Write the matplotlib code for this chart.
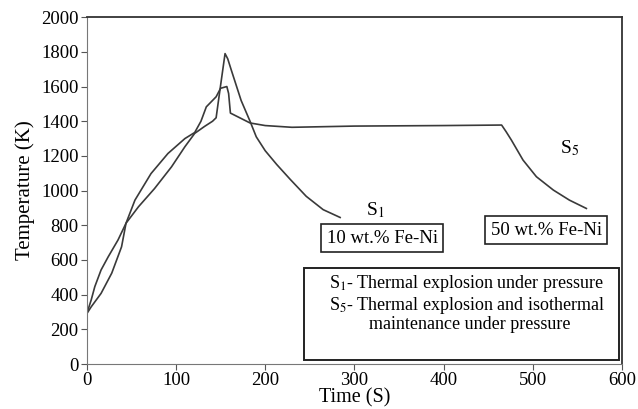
import matplotlib
matplotlib.use("Agg")
import matplotlib.pyplot as plt
from matplotlib.patches import Rectangle

plt.rcParams['font.family'] = 'Liberation Serif'
plt.rcParams['mathtext.fontset'] = 'stix'

# S1 - 10 wt.% Fe-Ni (thermal explosion under pressure)
t_s1 = [0, 5, 9, 16, 24, 35, 44, 58, 76, 95, 110, 121, 132, 141, 145, 149, 155, 158,
        162, 173, 183, 190, 200, 213, 228, 246, 265, 284]
T_s1 = [290, 370, 446, 542, 618, 715, 812, 907, 1012, 1137, 1253, 1330, 1370, 1400, 1420, 1570, 1790, 1760,
        1695, 1520, 1400, 1310, 1230, 1150, 1065, 967, 890, 845]

# S5 - 50 wt.% Fe-Ni (thermal explosion + isothermal maintenance)
t_s5 = [0, 5, 16, 28, 39, 44, 54, 72, 91, 110, 121, 128, 134, 145, 150, 157, 159, 161,
        183, 200, 230, 300, 400, 465, 470, 476, 489, 504, 523, 541, 560]
T_s5 = [290, 330, 407, 524, 676, 812, 945, 1098, 1214, 1300, 1335, 1400, 1483, 1541, 1590, 1600, 1560, 1447,
        1390, 1375, 1365, 1372, 1375, 1378, 1340, 1291, 1176, 1080, 1003, 945, 897]

x_ticks = [0, 100, 200, 300, 400, 500, 600]
y_ticks = [0, 200, 400, 600, 800, 1000, 1200, 1400, 1600, 1800, 2000]

fig = plt.figure(figsize=(6.38, 4.09), dpi=100)
ax = fig.add_axes([0.136, 0.110, 0.839, 0.848])

ax.plot(t_s1, T_s1, color='#3a3a3a', lw=1.2)
ax.plot(t_s5, T_s5, color='#3a3a3a', lw=1.2)

ax.set_xlim(0, 600)
ax.set_ylim(0, 2000)
ax.set_xticks(x_ticks)
ax.set_yticks(y_ticks)
ax.tick_params(labelsize=13.5, length=4, width=0.8, color='#555555', direction='out', pad=2)
ax.set_xlabel('Time (S)', fontsize=14.5, labelpad=-1)
ax.set_ylabel('Temperature (K)', fontsize=15, labelpad=4)
for side in ['left', 'bottom']:
    ax.spines[side].set_color('#777777')
for side in ['top', 'right']:
    ax.spines[side].set_color('#333333')
    ax.spines[side].set_linewidth(1.3)

# curve labels
ax.text(323, 888, r'S$_1$', fontsize=14, ha='center', va='center')
ax.text(541, 1245, r'S$_5$', fontsize=14, ha='center', va='center')

box = dict(boxstyle='square,pad=0.3', fc='white', ec='#222222', lw=1.2)
ax.text(331, 726, '10 wt.% Fe-Ni', fontsize=13.5, ha='center', va='center', bbox=box)
ax.text(515, 772, '50 wt.% Fe-Ni', fontsize=13.5, ha='center', va='center', bbox=box)

# description box
ax.add_patch(Rectangle((244, 23), 353, 530, fill=False, ec='#222222', lw=1.4))
ax.text(426, 467, r'S$_1$- Thermal explosion under pressure', fontsize=13, ha='center', va='center')
ax.text(426, 340, r'S$_5$- Thermal explosion and isothermal', fontsize=13, ha='center', va='center')
ax.text(429, 225, 'maintenance under pressure', fontsize=13, ha='center', va='center')

fig.savefig('out.png', dpi=100)
